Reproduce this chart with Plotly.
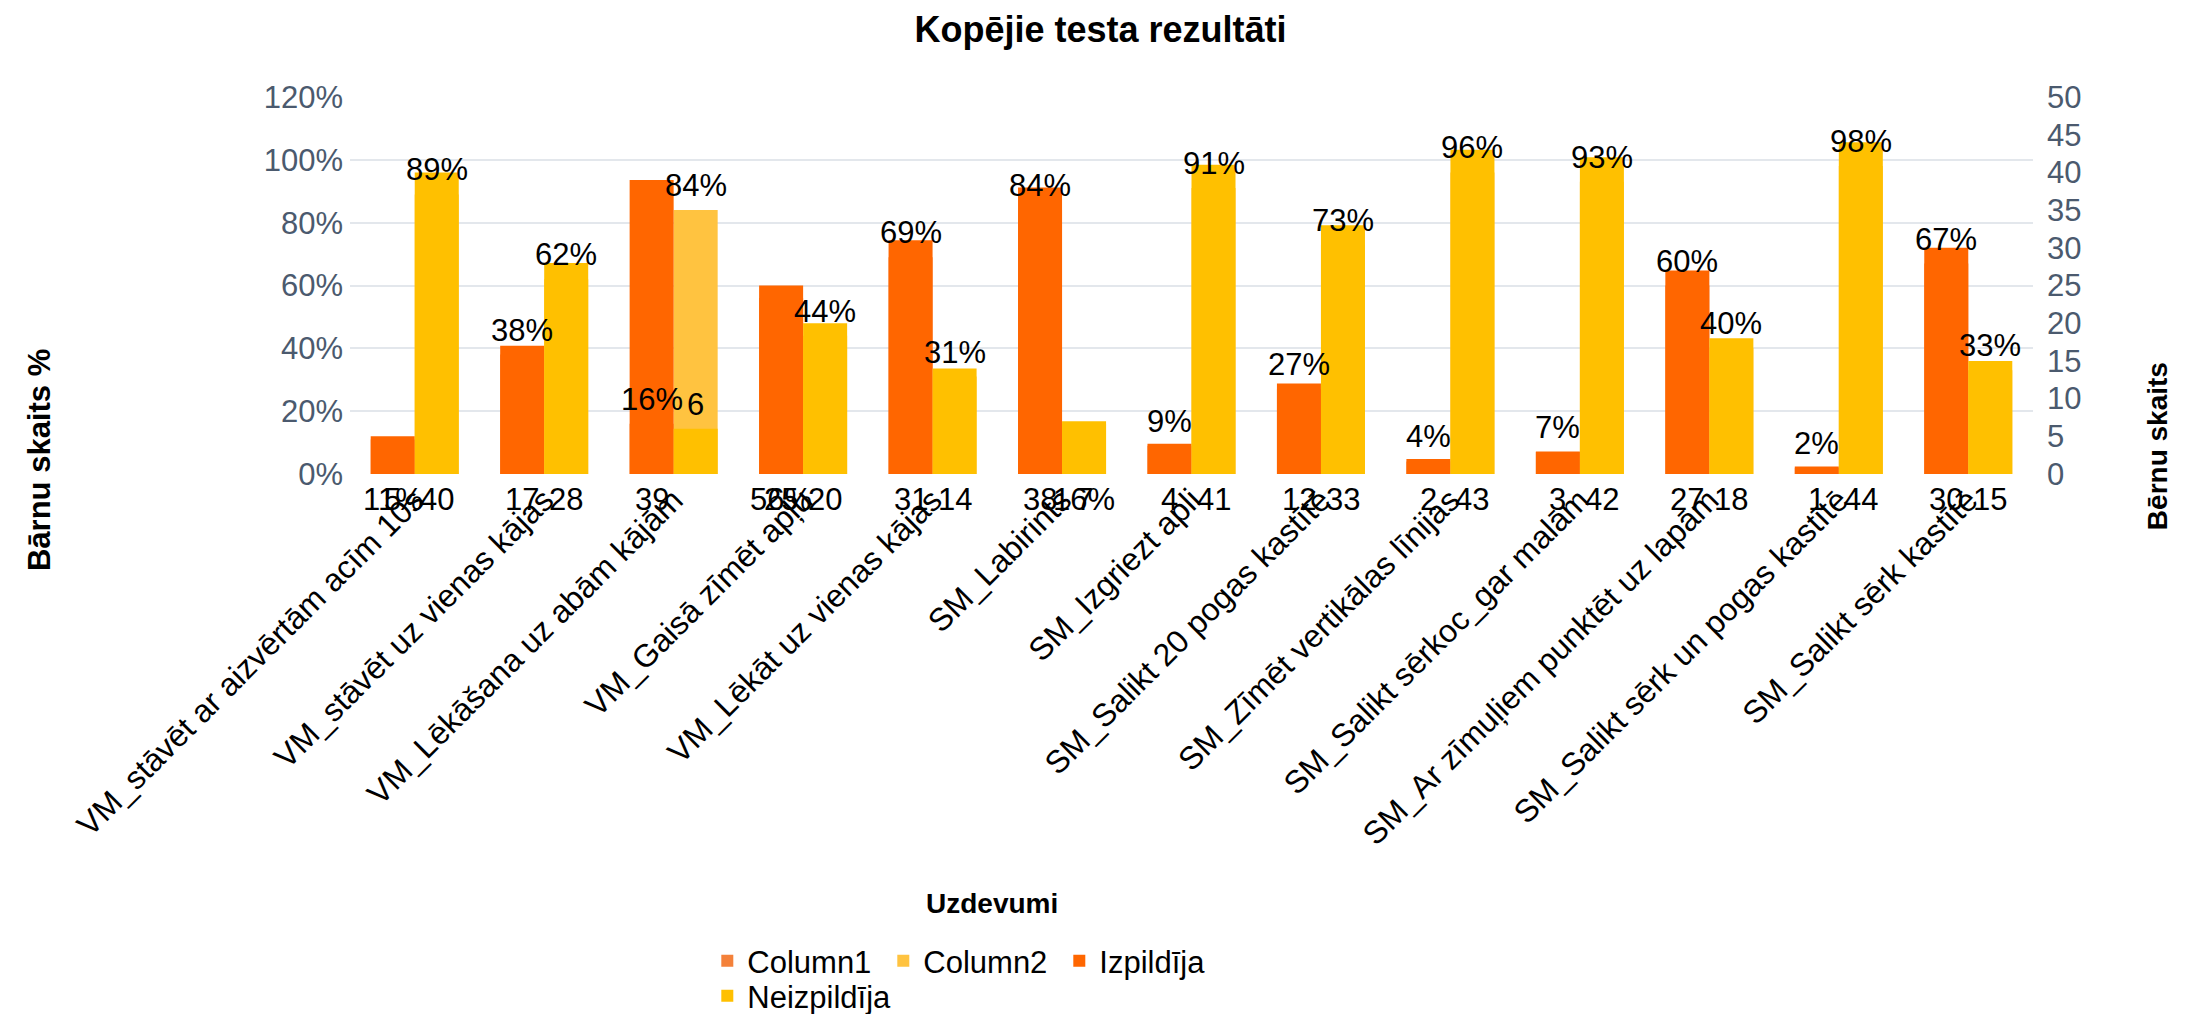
import plotly.graph_objects as go

# ---------------- data ----------------
categories = [
    "VM_stāvēt ar aizvērtām acīm 10s",
    "VM_stāvēt uz vienas kājas",
    "VM_Lēkāšana uz abām kājām",
    "VM_Gaisā zīmēt apļu",
    "VM_Lēkāt uz vienas kājas",
    "SM_Labirints",
    "SM_Izgriezt apli",
    "SM_Salikt 20 pogas kastītē",
    "SM_Zīmēt vertikālas līnijas",
    "SM_Salikt sērkoc_gar malām",
    "SM_Ar zīmuļiem punktēt uz lapām",
    "SM_Salikt sērk un pogas kastītē",
    "SM_Salikt sērk kastītē",
]
column1 = [11, 38, 16, 56, 69, 84, 9, 27, 4, 7, 60, 2, 67]        # %
column2 = [89, 62, 84, 44, 31, 16, 91, 73, 96, 93, 40, 98, 33]    # %
izpildija = [5, 17, 39, 25, 31, 38, 4, 12, 2, 3, 27, 1, 30]       # count
neizpildija = [40, 28, 6, 20, 14, 7, 41, 33, 43, 42, 18, 44, 15]  # count

# where each data label sits: "top" = above its bar, "base" = under the axis
col1_label_at = ["base", "top", "top", "base", "top", "top", "top", "top", "top", "top", "top", "top", "top"]
col2_label_at = ["top", "top", "top", "top", "top", "base", "top", "top", "top", "top", "top", "top", "top"]
izp_label_at = ["base"] * 13
neiz_label_at = ["base", "base", "top", "base", "base", "base", "base", "base", "base", "base", "base", "base", "base"]

# ---------------- style ----------------
FONT = "Liberation Sans, Arial, sans-serif"
C_COL1 = "#F4813A"
C_COL2 = "#FFC340"
C_IZP = "#FF6600"
C_NEIZ = "#FFC000"
TICK_C = "#4B5A6E"
GRID_C = "#E3E7EC"
BARGAP = 0.32
HALF = (1 - BARGAP) / 4  # half of one bar's width (two bars per group)
LBL = 31
W, H = 2185, 1014
PAGE_OFF = 8  # default page margin in front of the figure

x = list(range(len(categories)))

fig = go.Figure()
fig.add_bar(x=x, y=column1, name="Column1", marker_color=C_COL1, marker_line_width=0,
            offsetgroup="a", alignmentgroup="g", yaxis="y", legend="legend")
fig.add_bar(x=x, y=column2, name="Column2", marker_color=C_COL2, marker_line_width=0,
            offsetgroup="b", alignmentgroup="g", yaxis="y", legend="legend")
fig.add_bar(x=x, y=izpildija, name="Izpildīja", marker_color=C_IZP, marker_line_width=0,
            offsetgroup="a", alignmentgroup="g", yaxis="y2", legend="legend")
fig.add_bar(x=x, y=neizpildija, name="Neizpildīja", marker_color=C_NEIZ, marker_line_width=0,
            offsetgroup="b", alignmentgroup="g", yaxis="y2", legend="legend2")

annotations = []


def add_labels(values, texts, where, yref, side):
    for i, (v, t, w) in enumerate(zip(values, texts, where)):
        xi = i - HALF if side == "a" else i + HALF
        if w == "top":
            annotations.append(dict(x=xi, y=v, xref="x", yref=yref, text=t, showarrow=False,
                                    yanchor="bottom", yshift=5, font=dict(size=LBL, color="black")))
        else:
            annotations.append(dict(x=xi, y=0, xref="x", yref=yref, text=t, showarrow=False,
                                    yanchor="top", yshift=-6, font=dict(size=LBL, color="black")))


add_labels(column1, [f"{v}%" for v in column1], col1_label_at, "y", "a")
add_labels(column2, [f"{v}%" for v in column2], col2_label_at, "y", "b")
add_labels(izpildija, [str(v) for v in izpildija], izp_label_at, "y2", "a")
add_labels(neizpildija, [str(v) for v in neizpildija], neiz_label_at, "y2", "b")

# axis titles
annotations.append(dict(text="Bārnu skaits %", xref="paper", yref="paper", x=-0.1848, y=0.037,
                        textangle=-90, showarrow=False, xanchor="center", yanchor="middle",
                        font=dict(size=31, color="black", weight="bold")))
annotations.append(dict(text="Bērnu skaits", xref="paper", yref="paper", x=1.0737, y=0.074,
                        textangle=-90, showarrow=False, xanchor="center", yanchor="middle",
                        font=dict(size=28, color="black", weight="bold")))
annotations.append(dict(text="Uzdevumi", xref="paper", yref="paper", x=0.3815, y=-1.14,
                        showarrow=False, xanchor="center", yanchor="middle",
                        font=dict(size=28, color="black", weight="bold")))

fig.update_layout(
    template="none",
    width=W, height=H, autosize=False,
    margin=dict(l=350 - PAGE_OFF, r=W - 2033 + PAGE_OFF, t=97 - PAGE_OFF, b=H - 474 + PAGE_OFF,
                pad=0, autoexpand=False),
    paper_bgcolor="white", plot_bgcolor="white",
    font=dict(family=FONT, size=LBL, color="black"),
    title=dict(text="Kopējie testa rezultāti", x=0.5, xref="container", xanchor="center",
               y=1 - 21 / H, yref="container", yanchor="middle",
               font=dict(size=36, color="black", weight="bold")),
    barmode="group", bargap=BARGAP, bargroupgap=0,
    xaxis=dict(range=[-0.5, len(categories) - 0.5], tickmode="array", tickvals=x, ticktext=categories,
               tickangle=-45, tickfont=dict(size=32, color="black"), showgrid=False,
               zeroline=False, showline=False, ticks="", automargin=False),
    yaxis=dict(range=[0, 120], dtick=20, ticksuffix="%", tickfont=dict(size=31, color=TICK_C),
               showgrid=True, gridcolor=GRID_C, gridwidth=2, zeroline=False, showline=False,
               ticks="", automargin=False, ticklabelstandoff=6),
    yaxis2=dict(range=[0, 50], dtick=5, overlaying="y", side="right",
                tickfont=dict(size=31, color=TICK_C), showgrid=False, zeroline=False,
                showline=False, ticks="", automargin=False, ticklabelstandoff=13),
    legend=dict(orientation="h", x=0.2123, xanchor="left", y=-1.292, yanchor="middle",
                entrywidth=131, font=dict(size=31, color="black"), bgcolor="rgba(0,0,0,0)"),
    legend2=dict(orientation="h", x=0.2123, xanchor="left", y=-1.385, yanchor="middle",
                 font=dict(size=31, color="black"), bgcolor="rgba(0,0,0,0)"),
    annotations=annotations,
    showlegend=True,
)

fig.write_html("out.html")
